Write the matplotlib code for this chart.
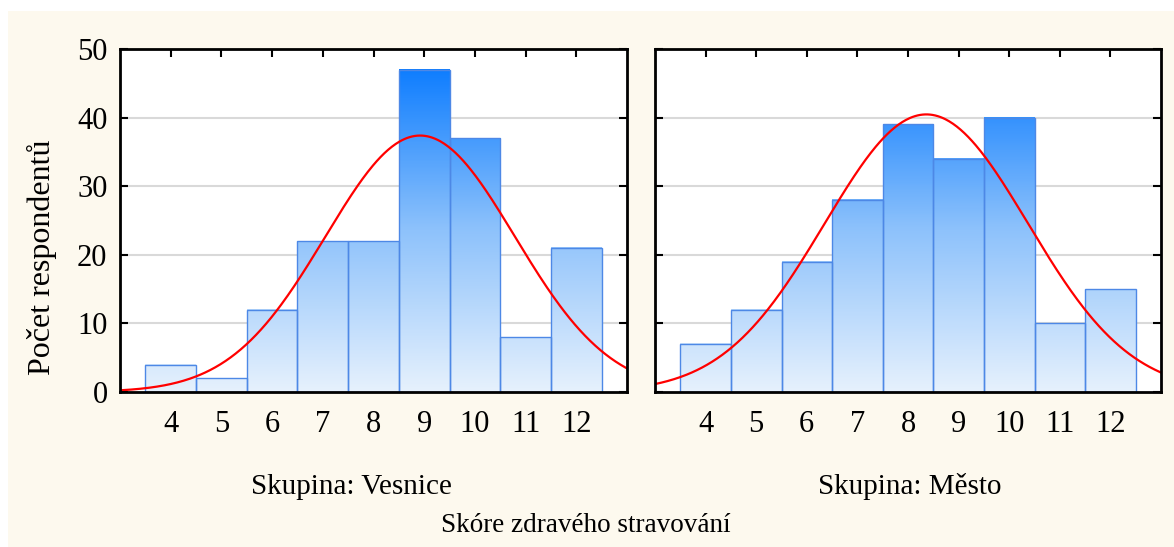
import numpy as np
import matplotlib
matplotlib.use("Agg")
import matplotlib.pyplot as plt
from matplotlib.colors import LinearSegmentedColormap, Normalize

# ---- data ----
scores = [4, 5, 6, 7, 8, 9, 10, 11, 12]
vesnice = [4, 2, 12, 22, 22, 47, 37, 8, 21]
mesto = [7, 12, 19, 28, 39, 34, 40, 10, 15]
groups = ["Skupina: Vesnice", "Skupina: Město"]
yticks = [0, 10, 20, 30, 40, 50]
ylabel = "Počet respondentů"
xlabel = "Skóre zdravého stravování"

plt.rcParams['font.family'] = ['Liberation Serif', 'DejaVu Serif']

W, H = 1174, 547
fig = plt.figure(figsize=(W / 100, H / 100), dpi=100)
fig.patch.set_facecolor('white')
# cream panel behind everything
fig.patches.append(plt.Rectangle((8 / W, 0), 1 - 8 / W, 1 - 11 / H, transform=fig.transFigure,
                                 facecolor='#fdf9ee', edgecolor='none', zorder=-10))

cmap = LinearSegmentedColormap.from_list('bl', ['#e6f1fd', '#8cc1fb', '#0a7bff'])
norm = Normalize(0, 48)

positions = [(120, 627), (655, 1161)]
top_px, bot_px = 49, 392

def normal_curve(x, counts, xs):
    counts = np.asarray(counts, float)
    xs = np.asarray(xs, float)
    n = counts.sum()
    m = (counts * xs).sum() / n
    sd = np.sqrt((counts * (xs - m) ** 2).sum() / (n - 1))
    return n / (sd * np.sqrt(2 * np.pi)) * np.exp(-0.5 * ((x - m) / sd) ** 2)

axes = []
for i, (counts, (l, r)) in enumerate(zip([vesnice, mesto], positions)):
    ax = fig.add_axes([l / W, 1 - bot_px / H, (r - l) / W, (bot_px - top_px) / H])
    axes.append(ax)
    ax.set_facecolor('white')
    ax.set_xlim(3, 13)
    ax.set_ylim(0, 50)
    for yv in yticks[1:-1]:
        ax.axhline(yv, color='#d9d9d9', lw=1.5, zorder=1)
    for x, c in zip(scores, counts):
        grad = np.linspace(0, c, 200).reshape(-1, 1)
        ax.imshow(grad, extent=[x - 0.5, x + 0.5, 0, c], origin='lower', aspect='auto',
                  cmap=cmap, norm=norm, zorder=2, interpolation='bilinear')
    ax.bar(scores, counts, width=1.0, facecolor='none', edgecolor='#4d88e6', lw=1.0, zorder=3)
    xx = np.linspace(3, 13, 400)
    ax.plot(xx, normal_curve(xx, counts, scores), color='#ff0000', lw=1.6, zorder=4)
    ax.set_xlim(3, 13)
    ax.set_ylim(0, 50)
    ax.set_xticks(scores)
    ax.set_xticklabels([str(s) for s in scores])
    ax.set_yticks(yticks)
    ax.tick_params(axis='both', direction='in', length=6, width=1.5, top=True, right=True,
                   labelsize=22, colors='black')
    ax.tick_params(axis='x', pad=13)
    ax.tick_params(axis='y', pad=9)
    if i == 1:
        ax.tick_params(axis='y', labelleft=False)
    for s in ax.spines.values():
        s.set_linewidth(2)
        s.set_color('black')
        s.set_zorder(5)

fig.text(351 / W, 1 - 487 / H, groups[0], ha='center', va='center', fontsize=21)
fig.text(910 / W, 1 - 487 / H, groups[1], ha='center', va='center', fontsize=21)
fig.text(586 / W, 1 - 525 / H, xlabel, ha='center', va='center', fontsize=19.5)
fig.text(42 / W, 1 - 257 / H, ylabel, ha='center', va='center', fontsize=23, rotation=90)

fig.savefig('out.png', dpi=100, facecolor=fig.get_facecolor())
